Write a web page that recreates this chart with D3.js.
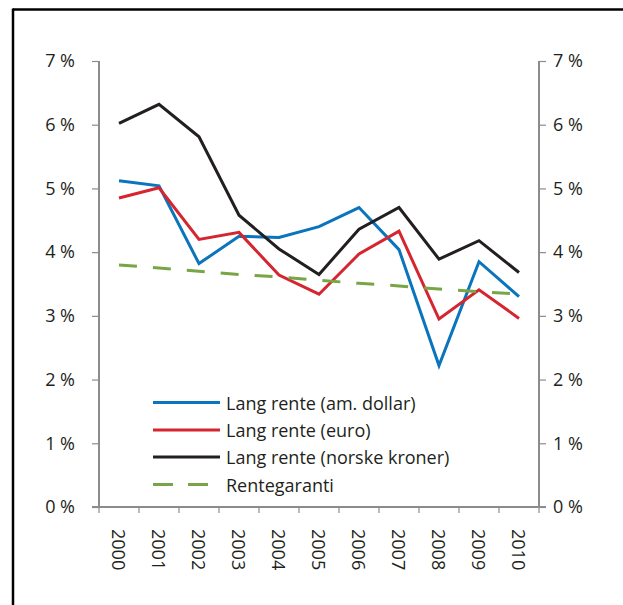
<!DOCTYPE html>
<html><head><meta charset="utf-8">
<script src="https://cdn.jsdelivr.net/npm/d3@7"></script>
<style>body{margin:0;background:#fff}svg{display:block}text{font-family:"Open Sans",sans-serif;fill:#231f20}</style>
</head><body><svg id="c" width="623" height="605"></svg>
<script>
const years = ["2000","2001","2002","2003","2004","2005","2006","2007","2008","2009","2010"];
const dollar = [5.12,5.04,3.82,4.25,4.23,4.40,4.70,4.04,2.22,3.85,3.30];
const euro   = [4.85,5.01,4.20,4.31,3.64,3.34,3.97,4.33,2.95,3.41,2.96];
const nok    = [6.02,6.32,5.81,4.58,4.05,3.65,4.36,4.70,3.89,4.18,3.68];
const garanti= [3.80,3.75,3.70,3.65,3.61,3.56,3.51,3.47,3.42,3.38,3.34];
const yTicks = [0,1,2,3,4,5,6,7];
const seriesNames = ["Lang rente (am. dollar)","Lang rente (euro)","Lang rente (norske kroner)","Rentegaranti"];

const series = [
  {name:seriesNames[0], values:dollar, color:"#0a74bd", dash:null},
  {name:seriesNames[1], values:euro, color:"#d5252f", dash:null},
  {name:seriesNames[2], values:nok, color:"#231f20", dash:null},
  {name:seriesNames[3], values:garanti, color:"#78a545", dash:"18,16"}
];

const FS = 18;
const svg = d3.select("#c");
// frame
svg.append("line").attr("x1",13).attr("x2",623).attr("y1",9.5).attr("y2",9.5).attr("stroke","#000").attr("stroke-width",2.5);
svg.append("line").attr("x1",13).attr("x2",13).attr("y1",8.5).attr("y2",605).attr("stroke","#000").attr("stroke-width",2.5);

const L=99, R=539, T=61, B=507;
const x = d3.scaleBand().domain(years).range([L,R]);
const y = d3.scaleLinear().domain([0,7]).range([B,T]);
const fmt = d => d + " %";
const axisColor = "#8c8c8c";

const gl = svg.append("g").attr("transform",`translate(${L},0)`)
  .call(d3.axisLeft(y).tickValues(yTicks).tickFormat(fmt).tickSize(7).tickPadding(17));
const gr = svg.append("g").attr("transform",`translate(${R},0)`)
  .call(d3.axisRight(y).tickValues(yTicks).tickFormat(fmt).tickSize(7).tickPadding(7));
[gl,gr].forEach(g=>{
  g.select(".domain").attr("stroke",axisColor).attr("stroke-width",2).attr("d",`M0,${B}V${T}`);
  g.selectAll(".tick line").attr("stroke",axisColor).attr("stroke-width",1.2);
  g.selectAll(".tick text").attr("font-size",FS).attr("fill","#231f20").attr("font-family","Open Sans, sans-serif");
});

// x axis
const gx = svg.append("g").attr("transform",`translate(0,${B})`);
gx.append("line").attr("x1",L-7).attr("x2",R+7).attr("y1",0).attr("y2",0).attr("stroke",axisColor).attr("stroke-width",2);
const bounds = years.map(d=>x(d)).concat([R]);
gx.selectAll("line.tk").data(bounds).join("line").attr("class","tk")
  .attr("x1",d=>d).attr("x2",d=>d).attr("y1",0).attr("y2",6).attr("stroke",axisColor).attr("stroke-width",1.2);
gx.selectAll("text.yr").data(years).join("text").attr("class","yr")
  .attr("transform",d=>`translate(${x(d)+x.bandwidth()/2},${22}) rotate(90)`)
  .attr("dominant-baseline","central").attr("font-size",FS).text(d=>d);

const line = d3.line().x((d,i)=>x(years[i])+x.bandwidth()/2).y(d=>y(d));
series.forEach(s=>{
  svg.append("path").attr("d",line(s.values)).attr("fill","none")
    .attr("stroke",s.color).attr("stroke-width",3).attr("stroke-dasharray",s.dash)
    .attr("stroke-linejoin","miter");
});

// legend
const lg = svg.append("g");
const ly = [402.5,430,457,484.5];
series.forEach((s,i)=>{
  lg.append("line").attr("x1",153).attr("x2",220).attr("y1",ly[i]).attr("y2",ly[i])
    .attr("stroke",s.color).attr("stroke-width",3).attr("stroke-dasharray",s.dash?"20,15":null);
  lg.append("text").attr("x",226).attr("y",ly[i]).attr("dominant-baseline","central")
    .attr("font-size",FS).text(s.name);
});
</script></body></html>
